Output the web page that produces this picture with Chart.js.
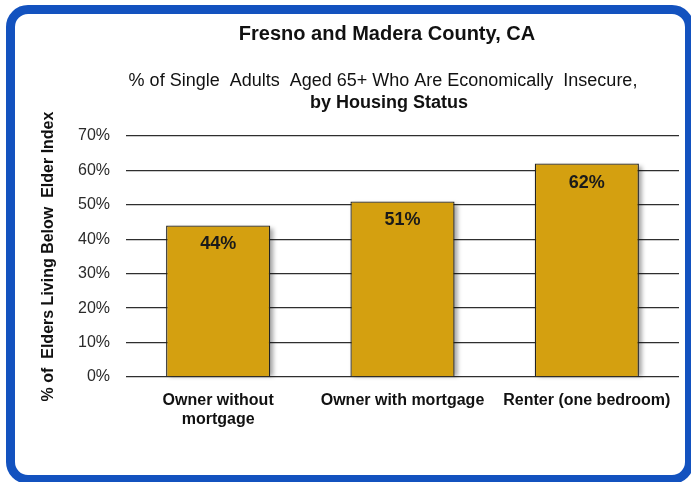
<!doctype html>
<html lang="en">
<head>
  <meta charset="utf-8">
  <title>Fresno and Madera County, CA</title>
  <script src="https://cdn.jsdelivr.net/npm/chart.js"></script>
  <style>
    html, body { margin: 0; padding: 0; background: #fff; overflow: hidden; }
    #frame {
      position: absolute; left: 6px; top: 5px; width: 670px; height: 461px;
      border: 9px solid #1352bf; border-radius: 22px; background: #fff;
    }
    #wrap { position: absolute; left: 0; top: 0; width: 691px; height: 482px; }
  </style>
</head>
<body>

<div id="frame"></div>
<div id="wrap">
  <canvas id="myChart" width="691" height="482"></canvas>
</div>

<script>
  // chart data
  const categories = [['Owner without', 'mortgage'], 'Owner with mortgage', 'Renter (one bedroom)'];
  const insecurePct = [44, 51, 62];
  const yTicks = [0, 10, 20, 30, 40, 50, 60, 70];

  const chartTitle = 'Fresno and Madera County, CA';
  const subtitleLine1 = '% of Single  Adults  Aged 65+ Who Are Economically  Insecure,';
  const subtitleLine2 = 'by Housing Status';
  const yAxisTitle = '% of  Elders Living Below  Elder Index';

  const FONT = '"Liberation Sans", Arial, sans-serif';

  // headings drawn on the canvas
  var headerPlugin = {
    id: 'header',
    afterDraw: function (chart) {
      var ctx = chart.ctx;
      ctx.save();
      ctx.fillStyle = '#111';
      ctx.textAlign = 'center';
      ctx.textBaseline = 'alphabetic';
      ctx.font = 'bold 20px ' + FONT;
      ctx.fillText(chartTitle, 387, 40);
      ctx.font = '18px ' + FONT;
      ctx.fillText(subtitleLine1, 383, 86);
      ctx.font = 'bold 18px ' + FONT;
      ctx.fillText(subtitleLine2, 389, 108);
      ctx.restore();
    }
  };

  // soft shadow behind the bars, then value labels on top
  var barDecor = {
    id: 'barDecor',
    beforeDatasetsDraw: function (chart) {
      var ctx = chart.ctx;
      ctx.save();
      ctx.filter = 'blur(2px)';
      ctx.fillStyle = 'rgba(0,0,0,0.35)';
      chart.getDatasetMeta(0).data.forEach(function (bar) {
        var w = bar.width;
        ctx.fillRect(bar.x - w / 2 + 3, bar.y + 3, w, bar.base - bar.y - 3);
      });
      ctx.restore();
    },
    afterDatasetsDraw: function (chart) {
      var ctx = chart.ctx;
      ctx.save();
      ctx.fillStyle = '#1a1a1a';
      ctx.font = 'bold 18px ' + FONT;
      ctx.textAlign = 'center';
      ctx.textBaseline = 'middle';
      chart.getDatasetMeta(0).data.forEach(function (bar, i) {
        ctx.fillText(insecurePct[i] + '%', bar.x, bar.y + 19);
      });
      ctx.restore();
    }
  };

  var config = {
    type: 'bar',
    data: {
      labels: categories,
      datasets: [{
        data: insecurePct,
        backgroundColor: '#d4a010',
        borderColor: '#222',
        borderWidth: 1.3,
        categoryPercentage: 1,
        barPercentage: 0.565
      }]
    },
    options: {
      responsive: false,
      animation: false,
      layout: { padding: { left: 0, top: 136, right: 12, bottom: 45 } },
      plugins: {
        legend: { display: false },
        tooltip: { enabled: false }
      },
      scales: {
        x: {
          grid: { display: false, drawTicks: false },
          border: { display: false },
          ticks: {
            color: '#111',
            padding: 15,
            maxRotation: 0,
            autoSkip: false,
            font: { family: FONT, size: 16, weight: 'bold', lineHeight: 1.13 }
          },
          afterFit: function (scale) { scale.height = 60; }
        },
        y: {
          min: 0,
          max: 70,
          afterBuildTicks: function (scale) {
            scale.ticks = yTicks.map(function (v) { return { value: v }; });
          },
          grid: { color: '#2e2e2e', lineWidth: 1.3, drawTicks: false },
          border: { display: false },
          ticks: {
            color: '#2a2a2a',
            padding: 16,
            font: { family: FONT, size: 16 },
            callback: function (v) { return v + '%'; }
          },
          title: {
            display: true,
            text: yAxisTitle,
            color: '#111',
            padding: { top: 39, bottom: 0 },
            font: { family: FONT, size: 16, weight: 'bold' }
          },
          afterFit: function (scale) { scale.width = 126; }
        }
      }
    },
    plugins: [headerPlugin, barDecor]
  };

  window.onload = function () {
    var ctx = document.getElementById('myChart').getContext('2d');
    new Chart(ctx, config);
  };
</script>
</body>
</html>
